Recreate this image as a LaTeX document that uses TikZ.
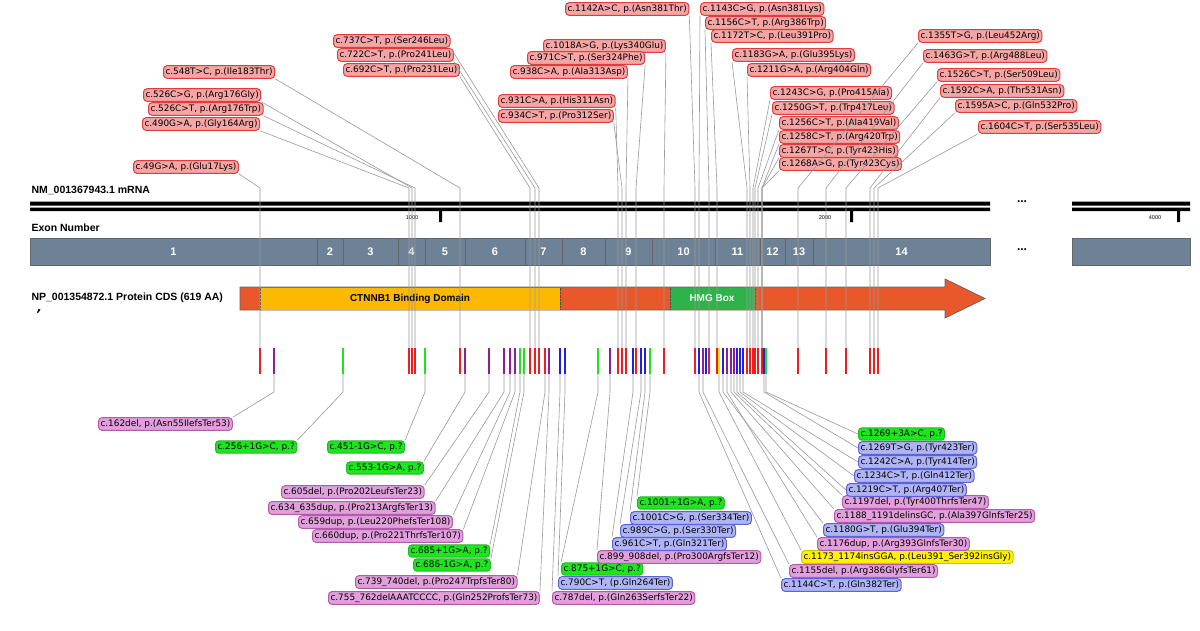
\documentclass[tikz,border=0pt]{standalone}
\usepackage{fontspec}
\setmainfont{Liberation Sans}
\newfontfamily\labfont{DejaVu Sans}
\usetikzlibrary{shapes.arrows}
\definecolor{exongray}{HTML}{6D8296}
\definecolor{cdsred}{HTML}{E8582A}
\definecolor{ctnnb}{HTML}{FBBA00}
\definecolor{hmg}{HTML}{2DB34A}
\definecolor{vred}{HTML}{E82020}
\definecolor{vpur}{HTML}{8E1E96}
\definecolor{vgrn}{HTML}{22E022}
\definecolor{vblu}{HTML}{2020E0}
\definecolor{vyel}{HTML}{FFE000}
\tikzstyle{lab} = [rounded corners=3.5pt, inner sep=2pt, line width=1pt,
    font=\labfont\fontsize{8.9}{10}\selectfont, anchor=west]
\tikzstyle{redlab} = [lab, fill={rgb,255:red,245;green,165;blue,165}, draw={rgb,255:red,225;green,60;blue,60}]
\tikzstyle{purlab} = [lab, fill={rgb,255:red,225;green,160;blue,220}, draw={rgb,255:red,180;green,90;blue,170}]
\tikzstyle{grnlab} = [lab, fill={rgb,255:red,30;green,230;blue,30}, draw={rgb,255:red,40;green,180;blue,40}]
\tikzstyle{blulab} = [lab, fill={rgb,255:red,175;green,180;blue,245}, draw={rgb,255:red,90;green,100;blue,215}]
\tikzstyle{yellab} = [lab, fill=yellow, draw={rgb,255:red,200;green,200;blue,0}]
\tikzstyle{tick} = [inner sep=0, minimum width=2.4, minimum height=26]
\tikzstyle{lead} = [gray!80, line width=0.6pt]
\tikzstyle{exon} = [draw=black!60, fill=exongray, line width=0.8pt]
\tikzstyle{exnum} = [text=white, font=\bfseries\fontsize{11}{12}\selectfont]
\tikzstyle{head} = [anchor=west, font=\bfseries\fontsize{10.5}{11}\selectfont]

\begin{document}
\begin{tikzpicture}[x=1pt,y=-1pt]
  \useasboundingbox (0,0) rectangle (1200,630);
  % mRNA
  \node[head] (mrna) at (28,190) {NM\_001367943.1 mRNA};
  \fill (30,201.5) rectangle (990,205.5) (30,207.5) rectangle (990,211);
  \fill (1072,201.5) rectangle (1190,205.5) (1072,207.5) rectangle (1190,211);
  \fill (439,211) rectangle (442,222) (850,211) rectangle (853,222) (1177,211) rectangle (1180,222);
  \node[font=\fontsize{5.5}{6}\selectfont] (k1) at (412,218) {1000};
  \node[font=\fontsize{5.5}{6}\selectfont] (k2) at (825,218) {2000};
  \node[font=\fontsize{5.5}{6}\selectfont] (k4) at (1155,218) {4000};
  \node[font=\bfseries\fontsize{12}{12}\selectfont] (dots1) at (1022,202) {...};
  % exons
  \node[head] (exlab) at (28,228) {Exon Number};
  \foreach \a/\b/\n in {30/317/1,317/343/2,343/398/3,398/425/4,425/465/5,465/525/6,525/562/7,
      562/605/8,605/652/9,652/715/10,715/760/11,760/785/12,785/813/13,813/990/14}{
    \draw[exon] (\a,238) rectangle (\b,265);
    \node[exnum] (ex\n) at ({(\a+\b)/2},251.5) {\n};
  }
  \draw[exon] (1072,238) rectangle (1190,265);
  \node[font=\bfseries\fontsize{12}{12}\selectfont] (dots2) at (1022,250) {...};
  % protein
  \node[head] (nplab) at (28,298) {NP\_001354872.1 Protein CDS (619 AA)};
  \fill (38.5,309) -- (40.5,309.5) -- (38,313) -- (37,312.5) -- cycle;
  \draw[black!60, fill=cdsred, line width=0.8pt] (240,287) -- (945,287) -- (945,279) -- (985,298.5)
     -- (945,318) -- (945,310) -- (240,310) -- cycle;
  \fill[ctnnb] (260,287.5) rectangle (560,309.5);
  \draw[densely dotted, black!70] (260,287.5) -- (260,309.5) (560,287.5) -- (560,309.5);
  \node[font=\bfseries\fontsize{10}{10}\selectfont] (ctd) at (410,298.5) {CTNNB1 Binding Domain};
  \fill[hmg] (670,287.5) rectangle (755,309.5);
  \draw[densely dotted, black!70] (670,287.5) -- (670,309.5) (755,287.5) -- (755,309.5);
  \node[font=\bfseries\fontsize{10}{10}\selectfont, text=white] (hmgb) at (712,298.5) {HMG Box};
  % variant ticks
  \foreach \x/\c in {260/vred,274/vpur,343/vgrn,409/vred,412/vred,415/vred,425/vgrn,460/vred,465/vpur,
      489/vpur,504/vpur,510/vpur,515/vpur,520/vgrn,524/vgrn,530/vred,535/vred,539/vred,545/vred,
      549/vpur,560/vblu,565/vblu,598/vgrn,610/vpur,618/vred,622/vred,626/vred,633/vblu,636/vred,
      641/vblu,645/vblu,650/vgrn,664/vred,695/vred,699/vblu,703/vpur,706/vblu,709/vred,717/vred,
      719/vyel,723/vblu,727/vpur,731/vpur,734/vpur,737/vblu,740/vblu,743/vblu,747/vred,750/vred,
      753/vred,755/vred,758/vred,762/vred,764/vblu,766/vgrn,798/vred,826/vred,846/vred,870/vred,
      874/vred,878/vred}
    \node[tick, fill=\c] (v\x) at (\x,361) {};
  % top labels
  \node[redlab] (t49) at (133,167) {c.49G>A, p.(Glu17Lys)};
  \node[redlab] (t526g) at (143,95) {c.526C>G, p.(Arg176Gly)};
  \node[redlab] (t526t) at (148,109) {c.526C>T, p.(Arg176Trp)};
  \node[redlab] (t490) at (142,124) {c.490G>A, p.(Gly164Arg)};
  \node[redlab] (t548) at (163,72) {c.548T>C, p.(Ile183Thr)};
  \node[redlab] (t737) at (333,41) {c.737C>T, p.(Ser246Leu)};
  \node[redlab] (t722) at (337,55) {c.722C>T, p.(Pro241Leu)};
  \node[redlab] (t692) at (343,70) {c.692C>T, p.(Pro231Leu)};
  \node[redlab] (t1018) at (543,46) {c.1018A>G, p.(Lys340Glu)};
  \node[redlab] (t971) at (527,58) {c.971C>T, p.(Ser324Phe)};
  \node[redlab] (t938) at (510,72) {c.938C>A, p.(Ala313Asp)};
  \node[redlab] (t931) at (498,101) {c.931C>A, p.(His311Asn)};
  \node[redlab] (t934) at (498,116) {c.934C>T, p.(Pro312Ser)};
  \node[redlab] (t1142) at (565,9) {c.1142A>C, p.(Asn381Thr)};
  \node[redlab] (t1143) at (700,9) {c.1143C>G, p.(Asn381Lys)};
  \node[redlab] (t1156) at (705,23) {c.1156C>T, p.(Arg386Trp)};
  \node[redlab] (t1172) at (711,36) {c.1172T>C, p.(Leu391Pro)};
  \node[redlab] (t1183) at (732,55) {c.1183G>A, p.(Glu395Lys)};
  \node[redlab] (t1211) at (747,70) {c.1211G>A, p.(Arg404Gln)};
  \node[redlab] (t1243) at (770,93) {c.1243C>G, p.(Pro415Ala)};
  \node[redlab] (t1250) at (772,108) {c.1250G>T, p.(Trp417Leu)};
  \node[redlab] (t1256) at (779,123) {c.1256C>T, p.(Ala419Val)};
  \node[redlab] (t1258) at (779,137) {c.1258C>T, p.(Arg420Trp)};
  \node[redlab] (t1267) at (779,151) {c.1267T>C, p.(Tyr423His)};
  \node[redlab] (t1268) at (779,164) {c.1268A>G, p.(Tyr423Cys)};
  \node[redlab] (t1355) at (918,36) {c.1355T>G, p.(Leu452Arg)};
  \node[redlab] (t1463) at (923,56) {c.1463G>T, p.(Arg488Leu)};
  \node[redlab] (t1526) at (937,75) {c.1526C>T, p.(Ser509Leu)};
  \node[redlab] (t1592) at (940,91) {c.1592C>A, p.(Thr531Asn)};
  \node[redlab] (t1595) at (955,106) {c.1595A>C, p.(Gln532Pro)};
  \node[redlab] (t1604) at (978,127) {c.1604C>T, p.(Ser535Leu)};
  \foreach \n/\a/\x in {t49/south east/260,t526g/south east/412,t526t/south east/415,t490/south east/409,
      t548/south east/460,t737/south east/539,t722/south east/535,t692/south east/530,
      t1018/south east/664,t971/south east/636,t938/south east/626,t931/south east/618,t934/south east/622,
      t1142/south east/695,t1143/south west/699,t1156/south west/709,t1172/south west/717,
      t1183/south west/747,t1211/south west/750,t1243/south west/753,t1250/south west/755,
      t1256/south west/758,t1258/south west/762,t1267/south west/762,t1268/south west/762,
      t1355/south west/798,t1463/south west/826,t1526/south west/846,t1592/south west/870,
      t1595/south west/874,t1604/south west/878}
    \draw[lead] (\n.\a) -- (v\x.north |- 0,188) -- (v\x.north);
  % bottom labels
  \node[purlab] (b162) at (98,424) {c.162del, p.(Asn55IlefsTer53)};
  \node[grnlab] (b256) at (215,447) {c.256+1G>C, p.?};
  \node[grnlab] (b451) at (327,447) {c.451-1G>C, p.?};
  \node[grnlab] (b553) at (346,468) {c.553-1G>A, p.?};
  \node[purlab] (b605) at (281,492) {c.605del, p.(Pro202LeufsTer23)};
  \node[purlab] (b634) at (268,508) {c.634\_635dup, p.(Pro213ArgfsTer13)};
  \node[purlab] (b659) at (298,522) {c.659dup, p.(Leu220PhefsTer108)};
  \node[purlab] (b660) at (312,536) {c.660dup, p.(Pro221ThrfsTer107)};
  \node[grnlab] (b685) at (408,551) {c.685+1G>A, p.?};
  \node[grnlab] (b686) at (413,565) {c.686-1G>A, p.?};
  \node[purlab] (b739) at (355,582) {c.739\_740del, p.(Pro247TrpfsTer80)};
  \node[purlab] (b755) at (328,598) {c.755\_762delAAATCCCC, p.(Gln252ProfsTer73)};
  \node[purlab] (b787) at (552,598) {c.787del, p.(Gln263SerfsTer22)};
  \node[blulab] (b790) at (558,583) {c.790C>T, (p.Gln264Ter)};
  \node[grnlab] (b875) at (561,569) {c.875+1G>C, p.?};
  \node[purlab] (b899) at (597,557) {c.899\_908del, p.(Pro300ArgfsTer12)};
  \node[blulab] (b961) at (612,544) {c.961C>T, p.(Gln321Ter)};
  \node[blulab] (b989) at (620,531) {c.989C>G, p.(Ser330Ter)};
  \node[blulab] (b1001) at (630,518) {c.1001C>G, p.(Ser334Ter)};
  \node[grnlab] (b1001i) at (637,503) {c.1001+1G>A, p.?};
  \node[blulab] (b1144) at (781,585) {c.1144C>T, p.(Gln382Ter)};
  \node[purlab] (b1155) at (789,571) {c.1155del, p.(Arg386GlyfsTer61)};
  \node[yellab] (b1173) at (801,557) {c.1173\_1174insGGA, p.(Leu391\_Ser392insGly)};
  \node[purlab] (b1176) at (817,544) {c.1176dup, p.(Arg393GlnfsTer30)};
  \node[blulab] (b1180) at (823,530) {c.1180G>T, p.(Glu394Ter)};
  \node[purlab] (b1188) at (834,516) {c.1188\_1191delinsGC, p.(Ala397GlnfsTer25)};
  \node[purlab] (b1197) at (842,502) {c.1197del, p.(Tyr400ThrfsTer47)};
  \node[blulab] (b1219) at (846,490) {c.1219C>T, p.(Arg407Ter)};
  \node[blulab] (b1234) at (854,476) {c.1234C>T, p.(Gln412Ter)};
  \node[blulab] (b1242) at (858,462) {c.1242C>A, p.(Tyr414Ter)};
  \node[blulab] (b1269) at (858,448) {c.1269T>G, p.(Tyr423Ter)};
  \node[grnlab] (b1269i) at (858,434) {c.1269+3A>C, p.?};
  \foreach \n/\a/\x in {b162/north east/274,b256/north east/343,b451/north east/425,b553/north east/465,
      b605/north east/489,b634/north east/504,b659/north east/510,b660/north east/515,
      b685/north east/520,b686/north east/524,b739/north east/545,b755/north east/549,
      b787/north west/560,b790/north west/565,b875/north west/598,b899/north west/610,
      b961/north west/633,b989/north west/641,b1001/north west/645,b1001i/north west/650,
      b1144/north west/699,b1155/north west/703,b1173/north west/719,b1176/north west/727,
      b1180/north west/723,b1188/north west/731,b1197/north west/734,b1219/west/737,
      b1234/west/740,b1242/west/743,b1269/west/764,b1269i/west/766}
    \draw[lead] (v\x.south) -- (v\x.south |- 0,392) -- (\n.\a);
\end{tikzpicture}
\end{document}
